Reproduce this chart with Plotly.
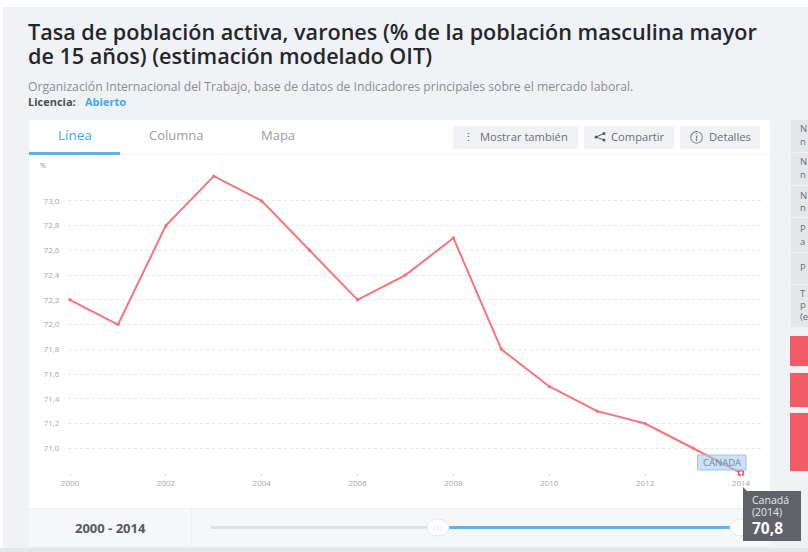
import plotly.graph_objects as go

years = list(range(2000, 2015))
values = [72.2, 72.0, 72.8, 73.2, 73.0, 72.6, 72.2, 72.4, 72.7, 71.8, 71.5, 71.3, 71.2, 71.0, 70.8]
y_ticks = [71.0, 71.2, 71.4, 71.6, 71.8, 72.0, 72.2, 72.4, 72.6, 72.8, 73.0]
x_ticks = [2000, 2002, 2004, 2006, 2008, 2010, 2012, 2014]

W, H = 808, 552
FONT = "Open Sans"
LINE = "#f4747f"
BG = "#f0f2f6"

def px(x): return x / W
def py(y): return 1 - y / H

shapes, annos = [], []

def rect(x0, y0, x1, y1, fill, line=None, layer="below"):
    shapes.append(dict(type="rect", xref="paper", yref="paper", x0=px(x0), x1=px(x1),
                       y0=py(y0), y1=py(y1), fillcolor=fill,
                       line=dict(color=line or fill, width=1 if line else 0), layer=layer))

def dot(cx, cy, r, fill, line=None, width=0):
    shapes.append(dict(type="circle", xref="paper", yref="paper", x0=px(cx - r), x1=px(cx + r),
                       y0=py(cy - r), y1=py(cy + r), fillcolor=fill,
                       line=dict(color=line or fill, width=width), layer="below"))

def text(x, y, s, size, color, anchor="left", bold=False, weight=None):
    f = dict(family=FONT, size=size, color=color)
    if weight:
        f["weight"] = weight
    annos.append(dict(xref="paper", yref="paper", x=px(x), y=py(y), text=f"<b>{s}</b>" if bold else s,
                      showarrow=False, xanchor=anchor, yanchor="middle",
                      font=f, borderpad=0, borderwidth=0))

# page
rect(0, 0, 808, 7, "#ffffff")
rect(0, 0, 3, 552, "#ffffff")
rect(0, 548, 808, 552, "#e4e6ea")
# card
rect(29, 120, 770, 546, "#ffffff")
rect(29, 154, 770, 155, "#f3f4f7")
rect(29, 152, 120, 155, "#5ab5ee")
# slider row
rect(29, 509, 770, 546, "#f6f7f9")
rect(29, 508, 770, 509, "#eff0f4")
rect(191, 509, 192, 546, "#eceef2")
rect(211, 526, 430, 529, "#dde2e9")
rect(449, 526, 738, 529, "#5ab5ee")
# buttons
rect(453, 126, 578, 149, "#f1f2f5")
rect(584, 126, 674, 149, "#f1f2f5")
rect(680, 126, 760, 149, "#f1f2f5")
# share icon
shapes.append(dict(type="path", xref="paper", yref="paper", layer="below",
                   path=f"M {px(604)} {py(133.5)} L {px(596)} {py(137)} L {px(604)} {py(140)}",
                   line=dict(color="#55595f", width=1)))
for cx, cy in [(604, 133.5), (596, 137), (604, 140)]:
    dot(cx, cy, 1.5, "#55595f")
# right column
rect(791, 120, 808, 327, "#e5e7eb")
for yy in (153, 186, 218, 253, 285):
    rect(791, yy - 1, 808, yy, "#f0f2f6")
rect(790, 336, 808, 366, "#f25c66")
rect(790, 373, 808, 407, "#f25c66")
rect(790, 413, 808, 471, "#f25c66")

# title and source
text(28, 31, "Tasa de población activa, varones (% de la población masculina mayor", 21.6, "#23272c", weight=600)
text(28, 55, "de 15 años) (estimación modelado OIT)", 21.6, "#23272c", weight=600)
text(28, 86, "Organización Internacional del Trabajo, base de datos de Indicadores principales sobre el mercado laboral.", 12.2, "#8a8f96")
text(28, 102, "Licencia:", 11, "#4a4e54", bold=True)
text(85, 102, "Abierto", 11, "#3fa9f5", bold=True)

# tabs
text(75, 135, "Línea", 13.5, "#3fa9f5", "center")
text(176, 135, "Columna", 13, "#9a9ea5", "center")
text(278, 135, "Mapa", 13, "#9a9ea5", "center")
text(469, 136, "⋮", 11, "#55595f", "center")
text(480, 136, "Mostrar también", 11.2, "#6a6e75")
text(611, 136, "Compartir", 11.2, "#6a6e75")
text(696, 137, "ⓘ", 13, "#55595f", "center")
text(709, 136, "Detalles", 11.2, "#6a6e75")
text(43, 165, "%", 7.5, "#8a8f96", "center")

# right column clipped letters
for yy, s in [(128, "N"), (141, "n"), (162, "N"), (174, "n"), (195, "N"), (207, "n"),
              (228, "P"), (241, "a"), (268, "P"), (293, "T"), (304, "p"), (316, "(e")]:
    text(800, yy, s, 9.5, "#6a6e75")

# slider
text(110, 527.5, "2000 - 2014", 13, "#55595f", "center", bold=True)
for cx in (438, 741):
    shapes.append(dict(type="circle", xref="paper", yref="paper", x0=px(cx - 11), x1=px(cx + 11),
                       y0=py(519), y1=py(536), fillcolor="#ffffff",
                       line=dict(color="#e3e6ea", width=1), layer="below"))
text(438, 527.5, "|||", 6, "#c8ccd2", "center")

# series label
rect(697.5, 455, 746, 470, "rgba(170,205,235,0.6)", "#9cc6e8", layer="above")
text(721.7, 462.5, "CANADA", 9.5, "#6f8ba6", "center")

# tooltip
shapes.append(dict(type="path", xref="paper", yref="paper", layer="above", fillcolor="#5f6269",
                   line=dict(width=0),
                   path=f"M {px(743)} {py(487)} L {px(743)} {py(541)} L {px(801)} {py(541)} "
                        f"L {px(801)} {py(491)} L {px(747)} {py(491)} Z"))
text(752, 499.5, "Canadá", 10.5, "#e6e8ea")
text(752, 512, "(2014)", 10.5, "#e6e8ea")
text(752, 528, "70,8", 15.5, "#ffffff", bold=True)

PLOT_L, PLOT_R, PLOT_T, PLOT_B = 68, 761, 160, 473
PX_PER_YEAR = (741 - 70) / 14
PX_PER_UNIT = 124

fig = go.Figure()
fig.add_trace(go.Scatter(x=years, y=values, mode="lines+markers",
                         line=dict(color=LINE, width=2),
                         marker=dict(color=LINE, size=3.5),
                         cliponaxis=False, hoverinfo="skip"))
fig.add_trace(go.Scatter(x=years[-1:], y=values[-1:], mode="markers",
                         marker=dict(color="#ffffff", size=5, line=dict(color="#ee4f5c", width=1.5)),
                         cliponaxis=False, hoverinfo="skip"))

fig.update_layout(
    width=W, height=H, margin=dict(l=0, r=0, t=0, b=0, pad=0, autoexpand=False), autosize=False,
    paper_bgcolor=BG, plot_bgcolor="rgba(0,0,0,0)", showlegend=False,
    separators=", ", font=dict(family=FONT),
    shapes=shapes, annotations=annos,
    xaxis=dict(domain=[px(PLOT_L), px(PLOT_R)],
               range=[2000 - 2 / PX_PER_YEAR, 2014 + 20 / PX_PER_YEAR],
               tickvals=x_ticks, ticks="outside", ticklen=2, tickcolor="#d5d8dc",
               tickfont=dict(size=8, color="#a5a8ad", family=FONT),
               showgrid=False, zeroline=False, showline=False),
    yaxis=dict(domain=[py(PLOT_B), py(PLOT_T)],
               range=[70.8, 73.0 + 41 / PX_PER_UNIT],
               tickvals=y_ticks, tickformat=".1f", ticks="outside", ticklen=6,
               tickcolor="rgba(0,0,0,0)",
               tickfont=dict(size=8, color="#a5a8ad", family=FONT),
               showgrid=True, gridcolor="#e6e8ea", griddash="dot", gridwidth=1,
               zeroline=False, showline=False),
)

fig.write_html("out.html", config=dict(displayModeBar=False),
               post_script="document.body.style.margin='0';")
